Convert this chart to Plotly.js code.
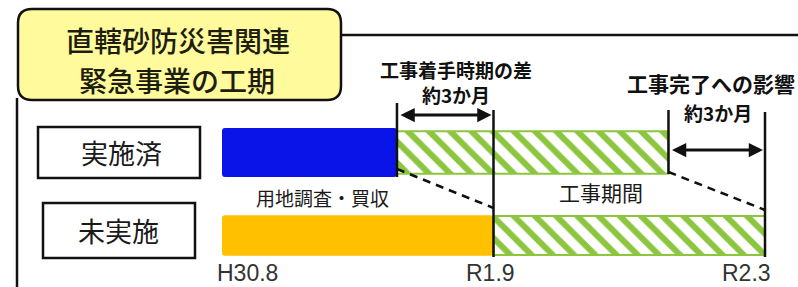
<!DOCTYPE html>
<html>
<head>
<meta charset="utf-8">
<script src="https://cdn.plot.ly/plotly-3.0.1.min.js"></script>
<style>html,body{margin:0;padding:0;background:#fff}#chart{width:798px;height:287px}</style>
</head>
<body>
<div id="chart"></div>
<script>
// ---- data (schematic months from H30.8) ----
const rowNames = ['実施済', '未実施'];
const rowPos = [1, 0];
const landStart = [0, 0];
const landEnd = [5.8, 9];
const workStart = [5.8, 9];
const workEnd = [14.8, 18];
const landColors = ['#0a14e8', '#ffc000'];
const tickVals = [0, 9, 18];
const tickText = ['H30.8', 'R1.9', 'R2.3'];
const titleLines = ['直轄砂防災害関連', '緊急事業の工期'];
const landLabel = '用地調査・買収';
const workLabel = '工事期間';
const gapStartLabel = '工事着手時期の差';
const gapEndLabel = '工事完了への影響';
const gapText = '約3か月';

// ---- layout helpers ----
const W = 798, H = 287;
const px = x => x / W;
const py = y => 1 - y / H;
const K = 83, Y0 = 235.5;
const yv = y => (Y0 - y) / K;
const CJK = '"Noto Sans CJK JP", "Noto Sans", sans-serif';
const GREEN = '#8cc63f';

const traces = [
  {
    type: 'bar', orientation: 'h', y: rowPos, base: landStart,
    x: landEnd.map((e, i) => e - landStart[i]),
    width: [0.59, 0.49],
    marker: {color: landColors, line: {width: 0}, cornerradius: 3},
    hoverinfo: 'skip', showlegend: false
  },
  {
    type: 'bar', orientation: 'h', y: rowPos, base: workStart,
    x: workEnd.map((e, i) => e - workStart[i]),
    width: [0.51, 0.47],
    marker: {
      color: '#ffffff', line: {color: GREEN, width: 2},
      pattern: {shape: '\\', fgcolor: GREEN, bgcolor: '#ffffff', size: 15, solidity: 0.4}
    },
    hoverinfo: 'skip', showlegend: false
  }
];

// rounded title box path in paper coords
function roundRect(x0, y0, x1, y1, r) {
  const P = (x, y) => px(x) + ',' + py(y);
  return 'M' + P(x0 + r, y0) + ' L' + P(x1 - r, y0) + ' Q' + P(x1, y0) + ' ' + P(x1, y0 + r) +
    ' L' + P(x1, y1 - r) + ' Q' + P(x1, y1) + ' ' + P(x1 - r, y1) +
    ' L' + P(x0 + r, y1) + ' Q' + P(x0, y1) + ' ' + P(x0, y1 - r) +
    ' L' + P(x0, y0 + r) + ' Q' + P(x0, y0) + ' ' + P(x0 + r, y0) + ' Z';
}

const shapes = [
  // frame
  {type: 'line', xref: 'paper', yref: 'paper', x0: px(17), x1: px(17), y0: py(98), y1: py(290), line: {color: '#111', width: 2.5}},
  {type: 'line', xref: 'paper', yref: 'paper', x0: px(340), x1: px(800), y0: py(35), y1: py(35), line: {color: '#111', width: 2.5}},
  // title box
  {type: 'path', xref: 'paper', yref: 'paper', path: roundRect(18, 9, 341, 100, 14), fillcolor: '#fffa9c', line: {color: '#111', width: 2.5}},
  // row label boxes
  {type: 'rect', xref: 'paper', yref: 'paper', x0: px(38), x1: px(200), y0: py(127), y1: py(178), fillcolor: '#fff', line: {color: '#111', width: 2.5}},
  {type: 'rect', xref: 'paper', yref: 'paper', x0: px(43), x1: px(195), y0: py(203), y1: py(258), fillcolor: '#fff', line: {color: '#111', width: 2.5}},
  // vertical markers
  {type: 'line', xref: 'x', yref: 'y', x0: landEnd[0], x1: landEnd[0], y0: yv(103), y1: yv(177), line: {color: '#111', width: 2.5}},
  {type: 'line', xref: 'x', yref: 'y', x0: workStart[1], x1: workStart[1], y0: yv(110), y1: yv(257), line: {color: '#111', width: 2.5}},
  {type: 'line', xref: 'x', yref: 'y', x0: workEnd[0], x1: workEnd[0], y0: yv(110), y1: yv(174), line: {color: '#111', width: 2.5}},
  {type: 'line', xref: 'x', yref: 'y', x0: workEnd[1], x1: workEnd[1], y0: yv(112), y1: yv(257), line: {color: '#111', width: 2.5}},
  // dashed shift lines
  {type: 'line', xref: 'x', yref: 'y', x0: landEnd[0], x1: workStart[1], y0: yv(169), y1: yv(208), line: {color: '#111', width: 2.5, dash: '8px,6px'}},
  {type: 'line', xref: 'x', yref: 'y', x0: workEnd[0], x1: workEnd[1], y0: yv(172), y1: yv(210), line: {color: '#111', width: 2.5, dash: '8px,6px'}}
];

function txt(text, x, y, size, opts) {
  return Object.assign({
    text: text, xref: 'paper', yref: 'paper', x: px(x), y: py(y),
    xanchor: 'center', yanchor: 'middle', showarrow: false,
    font: {family: CJK, size: size, color: '#1a1a1a'}
  }, opts || {});
}
const boldFont = s => ({family: CJK, size: s, color: '#111', weight: 'bold'});

const annotations = [
  txt(titleLines[0], 178, 40, 28, {font: {family: CJK, size: 28, color: '#1e1e10', weight: 500}}),
  txt(titleLines[1], 177, 80, 28, {font: {family: CJK, size: 28, color: '#1e1e10', weight: 500}}),
  txt(rowNames[0], 121, 153, 27),
  txt(rowNames[1], 118, 230, 27),
  txt(landLabel, 322, 197, 19),
  txt(workLabel, 601, 192, 21),
  txt(gapStartLabel + '<br>' + gapText, 456, 82, 19, {font: boldFont(19)}),
  txt(gapEndLabel, 625, 83, 21, {xanchor: 'left', font: boldFont(21)}),
  txt(gapText, 718, 112, 19, {font: boldFont(19)}),
  // double arrows
  {xref: 'x', yref: 'y', axref: 'x', ayref: 'y', x: workStart[1], y: yv(115), ax: landEnd[0], ay: yv(115),
    text: '', showarrow: true, arrowside: 'end+start', arrowhead: 2, arrowsize: 0.95, arrowwidth: 3, arrowcolor: '#111', standoff: 2, startstandoff: 2},
  {xref: 'x', yref: 'y', axref: 'x', ayref: 'y', x: workEnd[1], y: yv(150), ax: workEnd[0], ay: yv(150),
    text: '', showarrow: true, arrowside: 'end+start', arrowhead: 2, arrowsize: 0.95, arrowwidth: 3, arrowcolor: '#111', standoff: 2, startstandoff: 2}
];

// tick labels
const tickAnchor = ['left', 'center', 'right'];
const tickShift = [-7, -3, 8];
tickVals.forEach((v, i) => {
  annotations.push({
    text: tickText[i], xref: 'x', yref: 'paper', x: v, y: py(273),
    xanchor: tickAnchor[i], yanchor: 'middle', xshift: tickShift[i], showarrow: false,
    font: {family: '"Liberation Sans", Arial, sans-serif', size: 23, color: '#333'}
  });
});

const pad = 0.3, unit = (765 - 222) / 18;
const layout = {
  width: W, height: H,
  margin: {l: 0, r: 0, t: 0, b: 0, pad: 0},
  paper_bgcolor: '#ffffff', plot_bgcolor: 'rgba(0,0,0,0)',
  barmode: 'overlay', showlegend: false,
  xaxis: {domain: [px(222 - pad * unit), px(765 + pad * unit)], range: [-pad, 18 + pad], visible: false, fixedrange: true},
  yaxis: {domain: [0, 1], range: [yv(H), yv(0)], visible: false, fixedrange: true},
  shapes: shapes, annotations: annotations
};

Plotly.newPlot('chart', traces, layout, {staticPlot: true, displayModeBar: false});
</script>
</body>
</html>
